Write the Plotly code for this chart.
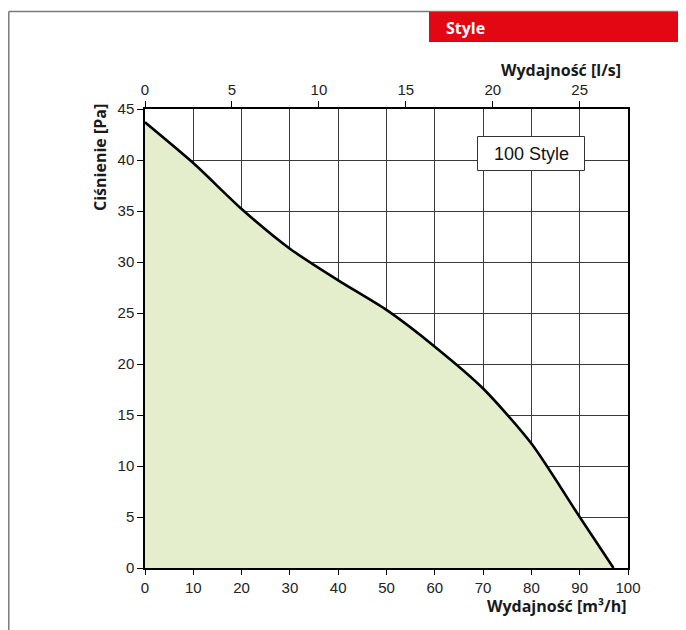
import plotly.graph_objects as go

# Data
flow_m3h = [0, 10, 20, 30, 40, 50, 60, 70, 80, 90, 97]
pressure_pa = [43.7, 39.7, 35.2, 31.3, 28.2, 25.3, 21.7, 17.6, 12.2, 5.0, 0.0]
x_ticks = [0, 10, 20, 30, 40, 50, 60, 70, 80, 90, 100]
x2_ticks = [0, 5, 10, 15, 20, 25]
y_ticks = [0, 5, 10, 15, 20, 25, 30, 35, 40, 45]

TICK_FONT = dict(family="Liberation Sans, Arial, sans-serif", size=15, color="#222222")
TITLE_FONT = dict(family="Open Sans, sans-serif", size=16, color="#1a1a1a", weight="bold")

fig = go.Figure()
fig.add_trace(go.Scatter(
    x=flow_m3h, y=pressure_pa, mode="lines",
    line=dict(color="#000000", width=2.6, shape="spline", smoothing=0.7),
    fill="tozeroy", fillcolor="#e4eecd", hoverinfo="x+y", showlegend=False,
))
# invisible trace to activate top axis (l/s)
fig.add_trace(go.Scatter(x=[0, 100 / 3.6], y=[0, 0], xaxis="x2", mode="lines",
                         line=dict(width=0), opacity=0, showlegend=False, hoverinfo="skip"))

# page has an 8px body margin: figure occupies window x 8..686, y 8..630
OFF = 8
PLOT_L, PLOT_R, PLOT_T, PLOT_B = 145, 628, 109, 568  # plot area in window px
PW = PLOT_R - PLOT_L
PH = PLOT_B - PLOT_T

def px(x):
    return (x - PLOT_L) / PW

def py(y):
    return (PLOT_B - y) / PH

shapes = [
    # outer frame
    dict(type="line", xref="paper", yref="paper", x0=px(8.8), x1=px(690), y0=py(11.5), y1=py(11.5),
         line=dict(color="#7a7a7a", width=1.5)),
    dict(type="line", xref="paper", yref="paper", x0=px(8.8), x1=px(8.8), y0=py(11.5), y1=py(640),
         line=dict(color="#7a7a7a", width=1.5)),
    # red banner
    dict(type="rect", xref="paper", yref="paper", x0=px(429), x1=px(690), y0=py(42), y1=py(12),
         fillcolor="#e30613", line=dict(width=0)),
    # label box
    dict(type="rect", xref="paper", yref="paper", x0=px(477.5), x1=px(584.5), y0=py(170.5), y1=py(136.5),
         fillcolor="#ffffff", line=dict(color="#333333", width=1), layer="above"),
]

annotations = [
    dict(text="Style", xref="paper", yref="paper", x=px(444), y=py(28), xanchor="left", yanchor="middle",
         showarrow=False, font=dict(family="Open Sans, sans-serif", size=16, color="#ffffff", weight="bold")),
    dict(text="Wydajność [l/s]", xref="paper", yref="paper", x=px(623), y=py(70), xanchor="right",
         yanchor="middle", showarrow=False, font=TITLE_FONT),
    dict(text="Wydajność [m³/h]", xref="paper", yref="paper", x=px(629), y=py(606), xanchor="right",
         yanchor="middle", showarrow=False, font=TITLE_FONT),
    dict(text="Ciśnienie [Pa]", xref="paper", yref="paper", x=px(100), y=py(158), xanchor="center",
         yanchor="middle", textangle=-90, showarrow=False, font=TITLE_FONT),
    dict(text="100 Style", xref="paper", yref="paper", x=px(531), y=py(153.5), xanchor="center",
         yanchor="middle", showarrow=False,
         font=dict(family="Liberation Sans, Arial, sans-serif", size=18, color="#111111")),
]

fig.update_layout(
    width=686 - OFF, height=630 - OFF,
    margin=dict(l=PLOT_L - OFF, r=686 - PLOT_R, t=PLOT_T - OFF, b=630 - PLOT_B, pad=0),
    paper_bgcolor="#ffffff", plot_bgcolor="#ffffff",
    shapes=shapes, annotations=annotations,
    xaxis=dict(range=[0, 100], tickvals=x_ticks, showgrid=True, gridcolor="#3a3a3a", gridwidth=1,
               showline=True, linecolor="#000000", linewidth=1.5, mirror=True,
               ticks="outside", ticklen=5, tickcolor="#000000", tickfont=TICK_FONT, zeroline=False),
    xaxis2=dict(range=[0, 100 / 3.6], tickvals=x2_ticks, overlaying="x", side="top", showgrid=False,
                ticks="outside", ticklen=7, tickcolor="#000000", tickfont=TICK_FONT, zeroline=False,
                showline=False),
    yaxis=dict(range=[0, 45], tickvals=y_ticks, showgrid=True, gridcolor="#3a3a3a", gridwidth=1,
               showline=True, linecolor="#000000", linewidth=1.5, mirror=True,
               ticks="outside", ticklen=6, tickcolor="#000000", tickfont=TICK_FONT, zeroline=False),
)

fig.write_html("out.html")
